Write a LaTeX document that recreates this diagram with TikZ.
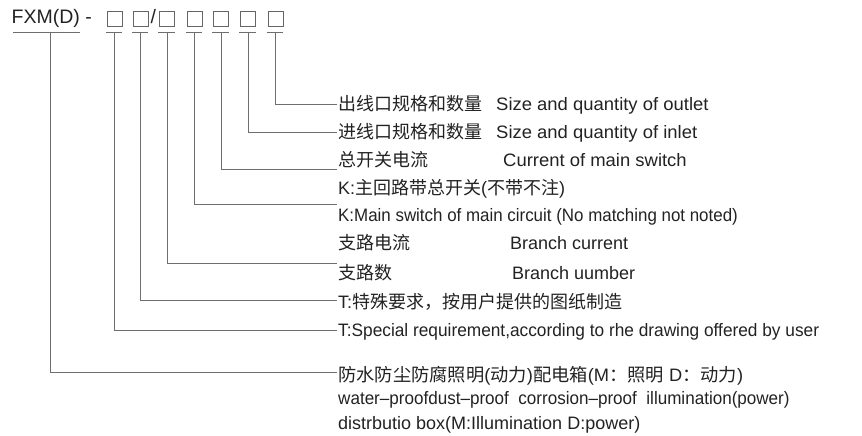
\documentclass[tikz,border=0pt]{standalone}
\usepackage{fontspec}
\usepackage{graphicx}
\setmainfont{Liberation Sans}
\newfontfamily\cjk{Noto Sans CJK SC}
\definecolor{txt}{HTML}{222222}
\definecolor{linec}{HTML}{6E6E6E}
\definecolor{boxc}{HTML}{666666}
\begin{document}
\begin{tikzpicture}[x=1pt,y=-1pt,
  lbl/.style={anchor=base west, inner sep=0pt, font=\fontsize{18}{18}\selectfont, text=txt},
  ttl/.style={anchor=base west, inner sep=0pt, font=\fontsize{19.5}{19.5}\selectfont, text=txt},
  bx/.style={draw=boxc, line width=0.9pt, minimum size=15pt, inner sep=0pt},
  conn/.style={draw=linec, line width=0.9pt},
  uline/.style={draw=linec, line width=0.9pt},
]
\useasboundingbox (0,0) rectangle (862,436);
% title
\node[ttl] (fxm) at (11.5,24) {FXM(D) -};
\node[bx] (b1) at (114.5,18.5) {};
\node[bx] (b2) at (140.5,18.5) {};
\node[ttl] (sl) at (150.5,24) {/};
\node[bx] (b3) at (167,18.5) {};
\node[bx] (b4) at (194.5,18.5) {};
\node[bx] (b5) at (221,18.5) {};
\node[bx] (b6) at (248,18.5) {};
\node[bx] (b7) at (275.5,18.5) {};
% underlines
\coordinate (fu1) at (13,32);
\coordinate (fu2) at (80,32);
\coordinate (f) at (50,32);
\draw[uline] (fu1) -- (fu2);
\foreach \b in {b1,b2,b3,b4,b5,b6,b7}{
  \draw[uline] ([xshift=-1pt,yshift=-6pt]\b.south west) -- ([yshift=-6pt]\b.south east);
}
% connector ends
\coordinate (e1) at (337,104);
\coordinate (e2) at (337,132);
\coordinate (e3) at (337,169);
\coordinate (e4) at (337,204);
\coordinate (e5) at (337,263);
\coordinate (e6) at (337,300);
\coordinate (e7) at (337,330);
\coordinate (e8) at (337,372);
\draw[conn] ([yshift=-6pt]b7.south) |- (e1);
\draw[conn] ([yshift=-6pt]b6.south) |- (e2);
\draw[conn] ([yshift=-6pt]b5.south) |- (e3);
\draw[conn] ([yshift=-6pt]b4.south) |- (e4);
\draw[conn] ([yshift=-6pt]b3.south) |- (e5);
\draw[conn] ([yshift=-6pt]b2.south) |- (e6);
\draw[conn] ([yshift=-6pt]b1.south) |- (e7);
\draw[conn] (f) |- (e8);
% labels
\node[lbl] (r1) at (338,110.5) {{\cjk 出线口规格和数量}};
\node[lbl] (r1e) at (496,110.5) {\scalebox{1.025}[1]{Size and quantity of outlet}};
\node[lbl] (r2) at (338,138.5) {{\cjk 进线口规格和数量}};
\node[lbl] (r2e) at (496,138.5) {\scalebox{1.025}[1]{Size and quantity of inlet}};
\node[lbl] (r3) at (338,166.5) {{\cjk 总开关电流}};
\node[lbl] (r3e) at (503,166.5) {\scalebox{1.025}[1]{Current of main switch}};
\node[lbl] (r4) at (338,194.5) {K:{\cjk 主回路带总开关}({\cjk 不带不注})};
\node[lbl] (r5) at (338,221.5) {\scalebox{0.94}[1]{K:Main switch of main circuit (No matching not noted)}};
\node[lbl] (r6) at (338,249.5) {{\cjk 支路电流}};
\node[lbl] (r6e) at (510,249.5) {Branch current};
\node[lbl] (r7) at (338,279.5) {{\cjk 支路数}};
\node[lbl] (r7e) at (512,279.5) {Branch uumber};
\node[lbl] (r8) at (338,308.5) {T:{\cjk 特殊要求，按用户提供的图纸制造}};
\node[lbl] (r9) at (338,336.5) {\scalebox{0.96}[1]{T:Special requirement,according to rhe drawing offered by user}};
\node[lbl] (r10) at (338,381.5) {\scalebox{1.015}[1]{{\cjk 防水防尘防腐照明}({\cjk 动力}){\cjk 配电箱}(M{\cjk ：照明} D{\cjk ：动力})}};
\node[lbl] (r11) at (338,404.5) {\scalebox{0.948}[1]{water–proofdust–proof\ \ corrosion–proof\ \ illumination(power)}};
\node[lbl] (r12) at (338,429.5) {distrbutio box(M:Illumination D:power)};
\end{tikzpicture}
\end{document}
